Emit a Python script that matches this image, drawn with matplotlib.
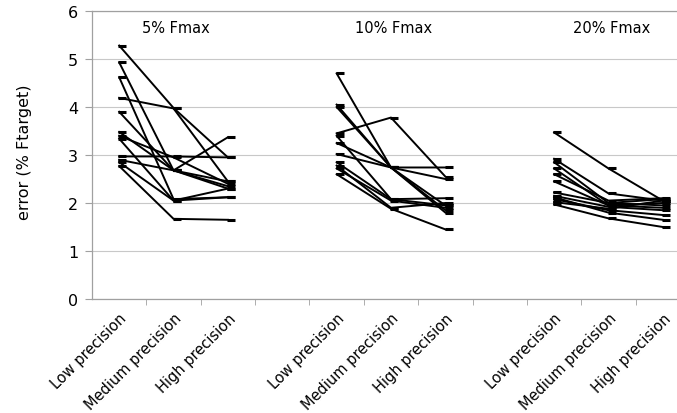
import matplotlib
matplotlib.use("Agg")
import matplotlib.pyplot as plt
import numpy as np

# per-subject force error (% Ftarget) at low / medium / high precision
conditions = ["5% Fmax", "10% Fmax", "20% Fmax"]
precisions = ["Low precision", "Medium precision", "High precision"]

err_5 = [
    [5.28, 3.98, 2.95],
    [4.93, 2.68, 2.35],
    [4.62, 2.08, 2.12],
    [4.19, 3.97, 2.45],
    [3.90, 2.68, 2.45],
    [3.48, 2.68, 2.30],
    [3.40, 2.95, 2.40],
    [3.34, 2.05, 2.12],
    [2.97, 2.97, 2.95],
    [2.90, 2.68, 3.37],
    [2.85, 2.05, 2.30],
    [2.77, 1.67, 1.65],
]
err_10 = [
    [4.70, 2.74, 2.50],
    [4.05, 2.74, 1.80],
    [4.00, 2.74, 1.95],
    [3.45, 3.78, 2.55],
    [3.40, 2.08, 1.95],
    [3.25, 2.74, 2.74],
    [3.02, 2.74, 1.85],
    [2.85, 2.08, 2.10],
    [2.78, 1.90, 2.00],
    [2.72, 2.05, 1.90],
    [2.60, 1.88, 1.45],
]
err_20 = [
    [3.47, 2.72, 2.05],
    [2.92, 2.20, 2.05],
    [2.85, 2.00, 2.08],
    [2.72, 1.95, 1.90],
    [2.60, 2.05, 2.10],
    [2.45, 1.95, 2.00],
    [2.22, 2.00, 1.95],
    [2.15, 1.92, 1.85],
    [2.08, 1.85, 1.75],
    [2.02, 1.88, 2.05],
    [1.97, 1.68, 1.50],
    [2.12, 1.80, 1.65],
]
groups = [err_5, err_10, err_20]

fig = plt.figure(figsize=(6.77, 4.14), dpi=100)
ax = fig.add_axes([92/677, 114/414, 598/677, 288/414])

grey = "#a0a0a0"
for g, data in enumerate(groups):
    x = np.arange(3) + 4*g
    for subj in data:
        ax.plot(x, subj, color="black", lw=1.4, zorder=3)
        ax.plot(x + 0.06, subj, ls="none", marker="_", ms=6, mew=2.2,
                color="black", zorder=4)
    ax.text(x[1] + 0.05, 5.65, conditions[g], ha="center", va="center",
            fontsize=10.5)

ax.set_xlim(-0.5, 10.5)
ax.set_ylim(0, 6)
ax.set_yticks(range(7))
ax.yaxis.grid(True, color="#c8c8c8", lw=0.8)
ax.set_axisbelow(True)

pos = [i + 4*g for g in range(3) for i in range(3)]
ax.set_xticks(pos)
ax.set_xticklabels(precisions*3, rotation=45, ha="right",
                   rotation_mode="anchor", fontsize=10.5)
ax.tick_params(axis="x", which="major", length=0, pad=8)
ax.set_xticks(np.arange(0.5, 10, 1), minor=True)
ax.tick_params(axis="x", which="minor", length=4, color=grey)
ax.tick_params(axis="y", length=5, color=grey, labelsize=11.5, pad=5)

for s in ["left", "bottom", "top"]:
    ax.spines[s].set_color(grey)
    ax.spines[s].set_linewidth(0.9)
ax.spines["right"].set_visible(False)

fig.text(25/677, 1 - 152/414, "error (% Ftarget)", rotation=90,
         ha="center", va="center", fontsize=11.5)

fig.savefig("out.png", dpi=100)
